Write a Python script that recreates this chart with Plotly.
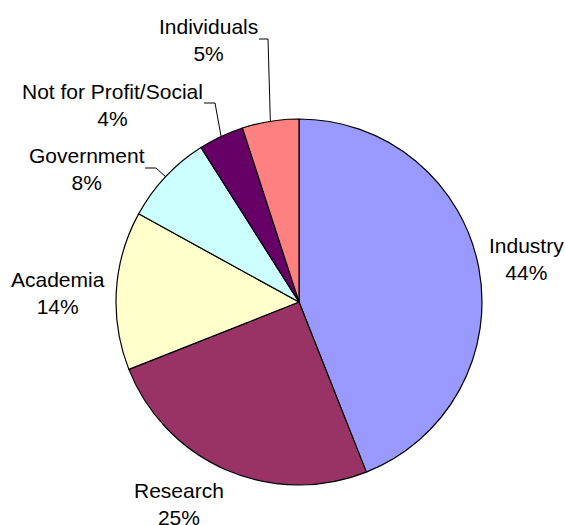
import math
import plotly.graph_objects as go

labels = ["Industry", "Research", "Academia", "Government", "Not for Profit/Social", "Individuals"]
values = [44, 25, 14, 8, 4, 5]
colors = ["#9999FF", "#993366", "#FFFFCC", "#CCFFFF", "#660066", "#FF8080"]

W, H = 565, 525
CX, CY, R = 299, 302, 183

# label centre positions (px) of each label block
label_pos = {
    "Industry": (526, 259),
    "Research": (179, 504),
    "Academia": (58, 293),
    "Government": (87, 169),
    "Not for Profit/Social": (112, 105),
    "Individuals": (208, 40),
}
# leader lines: elbow start (px) for labels that have one
leader_start = {
    "Government": [(145, 168), (156, 168)],
    "Not for Profit/Social": [(204, 103), (215, 103)],
    "Individuals": [(259, 39), (268, 39)],
}

def px(x):
    return x / W

def py(y):
    return 1 - y / H

fig = go.Figure(go.Pie(
    labels=labels, values=values, sort=False, direction="clockwise", rotation=0,
    marker=dict(colors=colors, line=dict(color="black", width=1.2)),
    textinfo="none", hoverinfo="label+percent",
    domain=dict(x=[px(CX - R), px(CX + R)], y=[py(CY + R), py(CY - R)]),
    showlegend=False,
))

total = sum(values)
annotations = []
shapes = []
cum = 0
for lab, v in zip(labels, values):
    mid = (cum + v / 2) / total * 2 * math.pi
    cum += v
    x, y = label_pos[lab]
    pct = round(v / total * 100)
    annotations.append(dict(
        x=px(x), y=py(y), xref="paper", yref="paper", xanchor="center", yanchor="middle",
        text=f"{lab}<br>{pct}%", showarrow=False, align="center",
        font=dict(size=21, color="black", family="Liberation Sans, Arial, sans-serif"),
    ))
    if lab in leader_start:
        ex = CX + R * math.sin(mid)
        ey = CY - R * math.cos(mid)
        pts = leader_start[lab] + [(ex, ey)]
        path = "M " + " L ".join(f"{px(a)},{py(b)}" for a, b in pts)
        shapes.append(dict(type="path", path=path, xref="paper", yref="paper",
                           line=dict(color="black", width=1)))

fig.update_layout(
    width=W, height=H, margin=dict(l=0, r=0, t=0, b=0),
    paper_bgcolor="white", plot_bgcolor="white",
    annotations=annotations, shapes=shapes,
    font=dict(family="Liberation Sans, Arial, sans-serif"),
)
fig.write_html("out.html")
